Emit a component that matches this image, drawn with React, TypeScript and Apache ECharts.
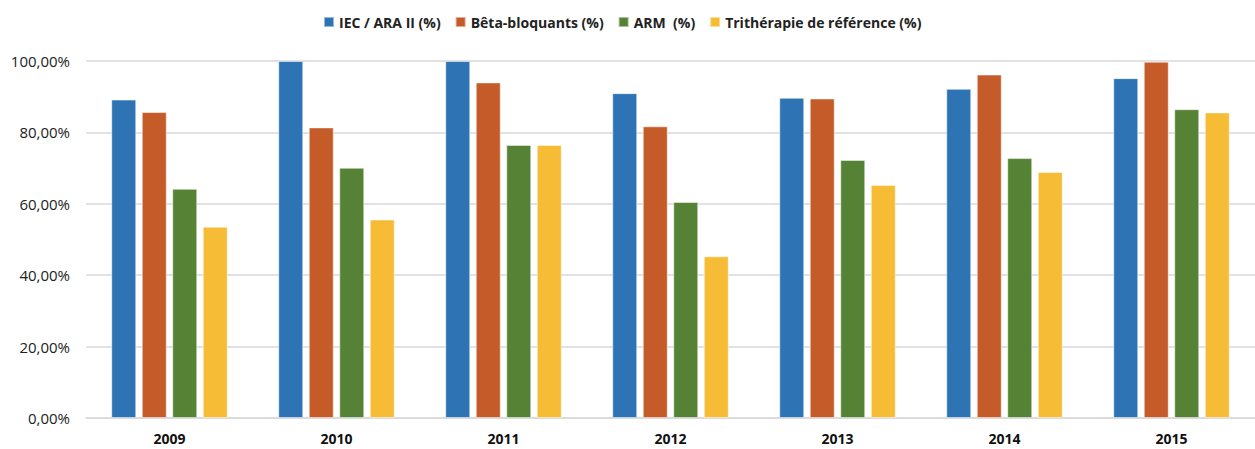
import React, { useEffect, useRef } from "react";
import * as echarts from "echarts";

const categories = ["2009", "2010", "2011", "2012", "2013", "2014", "2015"];
const seriesNames = ["IEC / ARA II (%)", "Bêta-bloquants (%)", "ARM  (%)", "Trithérapie de référence (%)"];
const iecAra = [89.2, 100, 100, 91.0, 89.7, 92.2, 95.2];
const betaBloquants = [85.7, 81.4, 94.0, 81.7, 89.5, 96.2, 99.8];
const arm = [64.2, 70.1, 76.5, 60.5, 72.3, 72.8, 86.5];
const tritherapie = [53.6, 55.6, 76.5, 45.3, 65.3, 68.9, 85.6];
const colors = ["#2E74B5", "#C55B28", "#558234", "#F6BC36"];

export default function App() {
  const ref = useRef<HTMLDivElement>(null);
  useEffect(() => {
    if (!ref.current) return;
    const chart = echarts.init(ref.current, null, { renderer: "svg" });
    const data = [iecAra, betaBloquants, arm, tritherapie];
    chart.setOption({
      animation: false,
      textStyle: { fontFamily: "Open Sans" },
      legend: {
        top: 10,
        left: 318,
        itemWidth: 10,
        itemHeight: 10,
        itemGap: 14,
        icon: "rect",
        textStyle: { fontSize: 14, fontWeight: "bold", color: "#222", fontFamily: "Open Sans" },
        data: seriesNames,
      },
      grid: { left: 86, width: 1174, top: 61, bottom: 31 },
      xAxis: {
        type: "category",
        data: categories,
        axisLine: { lineStyle: { color: "#d9d9d9", width: 1.5 } },
        axisTick: { show: false },
        axisLabel: { fontSize: 14, fontWeight: "bold", color: "#111", margin: 13 },
      },
      yAxis: {
        type: "value",
        min: 0,
        max: 100,
        interval: 20,
        axisLine: { show: false },
        axisTick: { show: false },
        splitLine: { lineStyle: { color: "#d9d9d9", width: 1.5 } },
        axisLabel: {
          fontSize: 15,
          color: "#222",
          margin: 16,
          formatter: (v: number) => v.toFixed(2).replace(".", ",") + "%",
        },
      },
      series: seriesNames.map((name, i) => ({
        name,
        type: "bar",
        data: data[i],
        barWidth: 25,
        barGap: "22%",
        itemStyle: { color: colors[i], borderColor: "rgba(255,255,255,0.5)", borderWidth: 1 },
      })),
    });
    return () => chart.dispose();
  }, []);
  return (
    <div
      ref={ref}
      style={{ position: "absolute", left: 0, top: 0, width: 1255, height: 449 }}
    />
  );
}
